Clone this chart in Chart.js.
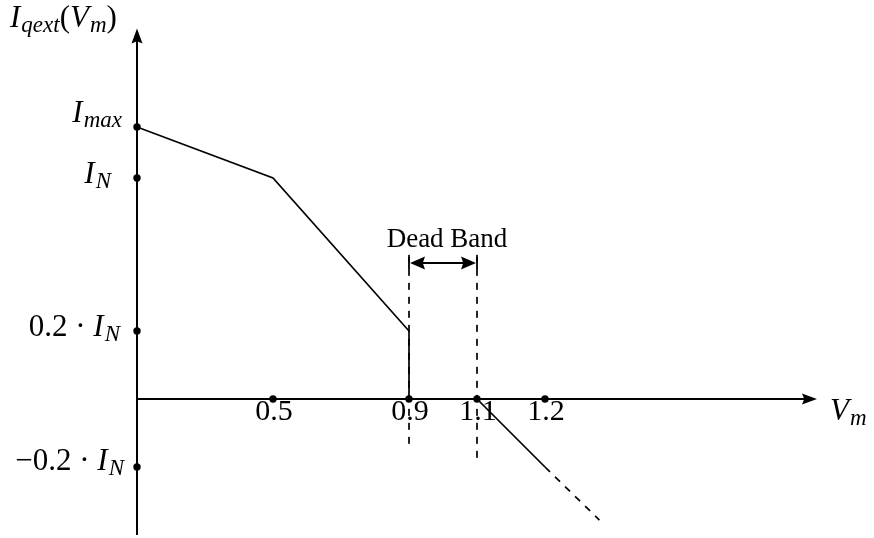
<!DOCTYPE html>
<html>
<head>
<meta charset="utf-8">
<script src="https://cdn.jsdelivr.net/npm/chart.js@4/dist/chart.umd.min.js"></script>
<style>
  html, body { margin: 0; background: #fff; }
  canvas { display: block; }
</style>
</head>
<body>
<canvas id="chart" width="874" height="538"></canvas>
<script>
// sketch units: the V_m axis is not to scale, ticks sit at fixed steps
const vmTickPos = [2, 4, 5, 6]
const vmTickLabels = ['0.5', '0.9', '1.1', '1.2']

const iqTickPos = [4, 3.25, 1, -1]
const iqTickLabels = [
  [{ t: 'I', it: true }, { t: 'max', it: true, sub: true }],
  [{ t: 'I', it: true }, { t: 'N', it: true, sub: true }],
  [{ t: '0.2 · ' }, { t: 'I', it: true }, { t: 'N', it: true, sub: true }],
  [{ t: '−0.2 · ' }, { t: 'I', it: true }, { t: 'N', it: true, sub: true }]
]

// injection curve for under-voltage, then absorption above the band
const curveX = [0, 2, 4, 4]
const curveY = [4, 3.25, 1, 0]
const absorbX = [5, 6]
const absorbY = [0, -1]
const extendX = [6, 6.8]
const extendY = [-1, -1.78]

// dead band edges and the extent of their guide lines
const deadBand = [4, 5]
const deadBandTop = 2.12
const deadBandBottom = [-0.75, -0.88]
const deadBandArrowY = 2.0

const xAxisEnd = 10
const yAxisTop = 5.45
const yAxisBottom = -2

const FONT = '"Liberation Serif", "Times New Roman", serif'
const MAIN = 31
const SUB = 23

const pts = (xs, ys) => xs.map((x, i) => ({ x, y: ys[i] }))

const arrowHead = (ctx, x, y, dx, dy, len = 15, half = 5.5) => {
  const px = -dy, py = dx
  ctx.beginPath()
  ctx.moveTo(x, y)
  ctx.lineTo(x - dx * len + px * half, y - dy * len + py * half)
  ctx.lineTo(x - dx * len * 0.85, y - dy * len * 0.85)
  ctx.lineTo(x - dx * len - px * half, y - dy * len - py * half)
  ctx.closePath()
  ctx.fill()
}

const fontFor = p => `${p.it ? 'italic ' : ''}${p.sub ? SUB : MAIN}px ${FONT}`

const drawMath = (ctx, parts, x, y, align) => {
  const widths = parts.map(p => { ctx.font = fontFor(p); return ctx.measureText(p.t).width })
  const total = widths.reduce((a, b) => a + b, 0)
  let cx = align === 'right' ? x - total : align === 'center' ? x - total / 2 : x
  ctx.textAlign = 'left'
  ctx.textBaseline = 'alphabetic'
  parts.forEach((p, i) => {
    ctx.font = fontFor(p)
    ctx.fillText(p.t, cx, y + (p.sub ? 5 : 0))
    cx += widths[i] + (p.it && !p.sub && parts[i + 1] && parts[i + 1].sub ? 1 : 0)
  })
}

const sketchAxes = {
  id: 'sketchAxes',
  beforeDatasetsDraw (chart) {
    const { ctx, scales: { x, y } } = chart
    const x0 = x.getPixelForValue(0)
    const y0 = y.getPixelForValue(0)
    const xEnd = x.getPixelForValue(xAxisEnd)
    const yTop = y.getPixelForValue(yAxisTop)
    const yBot = y.getPixelForValue(yAxisBottom)
    ctx.save()
    ctx.strokeStyle = '#000'
    ctx.fillStyle = '#000'
    ctx.lineWidth = 2
    ctx.beginPath()
    ctx.moveTo(x0, yBot)
    ctx.lineTo(x0, yTop + 10)
    ctx.moveTo(x0, y0)
    ctx.lineTo(xEnd - 10, y0)
    ctx.stroke()
    arrowHead(ctx, x0, yTop, 0, -1)
    arrowHead(ctx, xEnd, y0, 1, 0)
    ctx.restore()
  },
  afterDraw (chart) {
    const { ctx, scales: { x, y } } = chart
    const x0 = x.getPixelForValue(0)
    const y0 = y.getPixelForValue(0)
    ctx.save()
    ctx.fillStyle = '#000'
    ctx.strokeStyle = '#000'

    // dead band span |<->|
    const a = x.getPixelForValue(deadBand[0])
    const b = x.getPixelForValue(deadBand[1])
    const ay = y.getPixelForValue(deadBandArrowY)
    ctx.lineWidth = 1.8
    ctx.beginPath()
    ctx.moveTo(a + 10, ay)
    ctx.lineTo(b - 10, ay)
    ctx.moveTo(a, ay - 6)
    ctx.lineTo(a, ay + 6)
    ctx.moveTo(b, ay - 6)
    ctx.lineTo(b, ay + 6)
    ctx.stroke()
    arrowHead(ctx, a + 1, ay, -1, 0, 15, 6.5)
    arrowHead(ctx, b - 1, ay, 1, 0, 15, 6.5)
    ctx.font = `27px ${FONT}`
    ctx.textAlign = 'center'
    ctx.textBaseline = 'alphabetic'
    ctx.fillText('Dead Band', (a + b) / 2 + 4, ay - 16)

    // V_m tick labels
    ctx.font = `30px ${FONT}`
    vmTickPos.forEach((v, i) => {
      ctx.textAlign = 'center'
      ctx.fillText(vmTickLabels[i], x.getPixelForValue(v) + 1, y0 + 21)
    })

    // I_qext tick labels, each set as TikZ placed it
    const nudgeX = [-16, -27, -18, -14]
    const nudgeY = [-5, 5, 5, 3]
    iqTickPos.forEach((v, i) => {
      drawMath(ctx, iqTickLabels[i], x0 + nudgeX[i], y.getPixelForValue(v) + nudgeY[i], 'right')
    })

    // axis names
    drawMath(ctx, [
      { t: 'I', it: true }, { t: 'qext', it: true, sub: true },
      { t: '(' }, { t: 'V', it: true }, { t: 'm', it: true, sub: true }, { t: ')' }
    ], 10, 27, 'left')
    drawMath(ctx, [{ t: 'V', it: true }, { t: 'm', it: true, sub: true }],
      x.getPixelForValue(xAxisEnd) + 13, y0 + 21, 'left')
    ctx.restore()
  }
}

const line = (data, dash) => ({
  data,
  showLine: true,
  borderColor: '#000',
  borderWidth: 1.7,
  borderDash: dash || [],
  pointRadius: 0,
  fill: false
})

const tickDots = [
  ...iqTickPos.map(v => ({ x: 0, y: v })),
  ...vmTickPos.map(v => ({ x: v, y: 0 }))
]

new Chart(document.getElementById('chart'), {
  type: 'scatter',
  data: {
    datasets: [
      line(pts(curveX, curveY)),
      line(pts(absorbX, absorbY)),
      line(pts(extendX, extendY), [7, 7]),
      line([{ x: deadBand[0], y: deadBandTop }, { x: deadBand[0], y: deadBandBottom[0] }], [7, 7]),
      line([{ x: deadBand[1], y: deadBandTop }, { x: deadBand[1], y: deadBandBottom[1] }], [7, 7]),
      {
        data: tickDots,
        showLine: false,
        pointRadius: 3.7,
        pointBackgroundColor: '#000',
        pointBorderWidth: 0
      }
    ]
  },
  options: {
    responsive: false,
    devicePixelRatio: 1,
    animation: false,
    layout: { padding: 0, autoPadding: false },
    plugins: { legend: { display: false }, tooltip: { enabled: false } },
    scales: {
      x: { type: 'linear', display: false, min: -137 / 68, max: (874 - 137) / 68 },
      y: { type: 'linear', display: false, min: -(538 - 399) / 68, max: 399 / 68 }
    }
  },
  plugins: [sketchAxes]
})
</script>
</body>
</html>
